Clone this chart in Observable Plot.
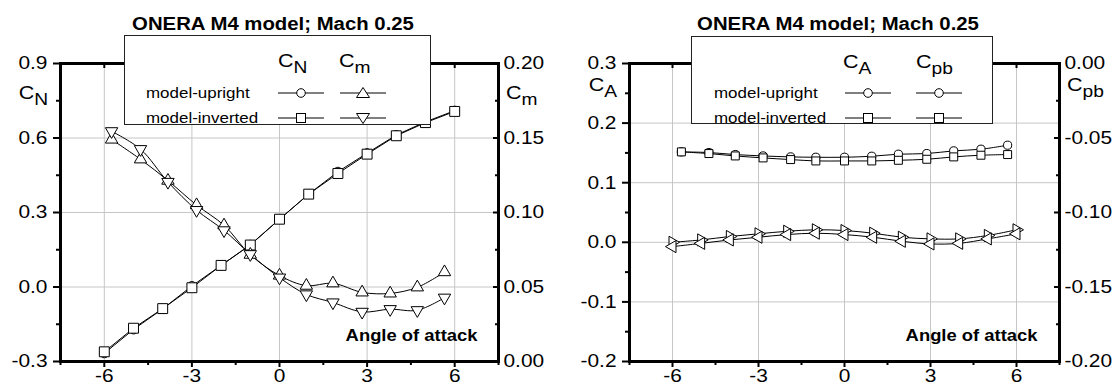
<!DOCTYPE html>
<html><head><meta charset="utf-8">
<script src="https://cdn.jsdelivr.net/npm/d3@7"></script>
<script src="https://cdn.jsdelivr.net/npm/@observablehq/plot@0.6"></script>
<style>
body{margin:0;background:#fff;font-family:"Liberation Sans",Arial,sans-serif;}
#wrap{position:relative;width:1118px;height:387px;overflow:hidden;background:#fff}
.chart{position:absolute;top:0}
.title{position:absolute;font-weight:bold;font-size:18px;line-height:18px;white-space:nowrap;transform:translateX(-50%) scaleX(1.13);transform-origin:50% 50%}
.legend{position:absolute;background:#fff;border:1px solid #222;box-sizing:border-box}
.legend .lab{position:absolute;font-size:15px;line-height:15px;white-space:nowrap;transform:scaleX(1.13);transform-origin:0 50%}
.legend .hdr{position:absolute;font-size:19px;line-height:19px;white-space:nowrap;transform:scaleX(1.13);transform-origin:0 50%}
.hdr sub{font-size:17px;vertical-align:-6px;line-height:0}
.legend svg{position:absolute}
</style></head><body><div id="wrap"></div>
<script>
// ---------------- data ----------------
const title = "ONERA M4 model; Mach 0.25";
const seriesNames = ["model-upright", "model-inverted"];
const xLabel = "Angle of attack";

// angle of attack for C_N and C_pb points
const alphaInt = [-6, -5, -4, -3, -2, -1, 0, 1, 2, 3, 4, 5, 6];
// angle of attack for C_m and C_A points
const alphaCm = [-5.75, -4.76, -3.82, -2.84, -1.9, -1.0, 0, 0.92, 1.83, 2.83, 3.79, 4.72, 5.65];
const alphaCA = [-5.69, -4.73, -3.81, -2.84, -1.88, -1.0, 0, 0.95, 1.88, 2.87, 3.81, 4.76, 5.69];

const cnUpright  = [-0.267, -0.171, -0.088, 0.004, 0.087, 0.170, 0.273, 0.374, 0.464, 0.539, 0.612, 0.665, 0.710];
const cnInverted = [-0.261, -0.166, -0.087, -0.003, 0.087, 0.169, 0.273, 0.374, 0.457, 0.535, 0.609, 0.662, 0.707];

const cmUpright  = [0.1490, 0.1357, 0.1214, 0.1050, 0.0914, 0.0717, 0.0577, 0.0509, 0.0525, 0.0464, 0.0457, 0.0498, 0.0600];
const cmInverted = [0.1545, 0.1425, 0.1205, 0.1016, 0.0880, 0.0720, 0.0563, 0.0450, 0.0396, 0.0333, 0.0351, 0.0344, 0.0428];

const caUpright  = [0.1517, 0.1506, 0.1472, 0.1449, 0.1433, 0.1427, 0.1427, 0.1444, 0.1478, 0.1489, 0.1534, 0.1562, 0.1629];
const caInverted = [0.1517, 0.1489, 0.1449, 0.1416, 0.1388, 0.1365, 0.1365, 0.1365, 0.1376, 0.1393, 0.1433, 0.1461, 0.1472];

const cpbUpright  = [-0.1200, -0.1184, -0.1161, -0.1143, -0.1126, -0.1116, -0.1121, -0.1139, -0.1166, -0.1177, -0.1177, -0.1154, -0.1116];
const cpbInverted = [-0.1229, -0.1207, -0.1184, -0.1166, -0.1148, -0.1139, -0.1148, -0.1166, -0.1193, -0.1211, -0.1207, -0.1177, -0.1143];

// ticks
const xMajor = [-6, -3, 0, 3, 6];
const xMinor = [-7.5, -4.5, -1.5, 1.5, 4.5, 7.5];
const cnMajor = [-0.3, 0, 0.3, 0.6, 0.9];
const cnMinor = [-0.15, 0.15, 0.45, 0.75];
const cmMajor = [0, 0.05, 0.10, 0.15, 0.20];
const cmMinor = [0.025, 0.075, 0.125, 0.175];
const caMajor = [-0.2, -0.1, 0, 0.1, 0.2, 0.3];
const caMinor = [-0.15, -0.05, 0.05, 0.15, 0.25];
const cpbMajor = [0, -0.05, -0.10, -0.15, -0.20];
const cpbMinor = [-0.025, -0.075, -0.125, -0.175];

// secondary-axis mappings onto the primary y scale
const cmToCN = v => v * 6 - 0.3;
const cnToCm = v => (v + 0.3) / 6;
const cpbToCA = v => v * 2.5 + 0.3;
const caToCpb = v => (v - 0.3) / 2.5;

// ---------------- helpers ----------------
const FONT = "Liberation Sans, Arial, sans-serif";
const SX = 1.13; // horizontal stretch of the original lettering
const rows = (xs, ys, f = v => v) => xs.map((x, i) => ({x, y: f(ys[i])}));
const fmt = n => d => { const s = d.toFixed(n); return /^-0\.0+$/.test(s) ? s.slice(1) : s; };
const GRID = "#c6c6c6";

function frameAxes(o) {
  return [
    Plot.frame({stroke: "black", strokeWidth: 3}),
    Plot.axisX(xMajor, {anchor: "bottom", tickSize: 6, strokeWidth: 2, tickPadding: 1, fontSize: 18.5, label: null, tickFormat: d => String(d)}),
    Plot.axisX(xMinor, {anchor: "bottom", tickSize: 4, strokeWidth: 2, tickFormat: () => "", label: null}),
    Plot.axisX(xMajor, {anchor: "top", tickSize: 4, insetTop: 4, strokeWidth: 2, tickFormat: () => "", label: null}),
    Plot.axisY(o.leftMajor, {anchor: "left", tickSize: 7, strokeWidth: 2, tickPadding: 6, fontSize: 18.5, label: null, tickFormat: o.leftFmt}),
    Plot.axisY(o.leftMinor, {anchor: "left", tickSize: 4, strokeWidth: 2, tickFormat: () => "", label: null}),
    Plot.axisY(o.rightMajor, {anchor: "right", tickSize: 6, insetRight: 6, strokeWidth: 2, tickFormat: () => "", label: null}),
    Plot.axisY(o.rightMinor, {anchor: "right", tickSize: 4, insetRight: 4, strokeWidth: 2, tickFormat: () => "", label: null}),
    Plot.axisY(o.rightMajor, {anchor: "right", tickSize: 0, tickPadding: 5, fontSize: 18.5, label: null, tickFormat: o.rightFmt}),
    Plot.text([xLabel], {text: d => d, frameAnchor: "bottom-right", textAnchor: "end", dx: o.xLabelDx, dy: -21, fontSize: 16.3, fontWeight: "bold"})
  ];
}

// stretch all SVG lettering horizontally about its own anchor point
function stretchText(svg) {
  d3.select(svg).selectAll("text").each(function () {
    const x = this.getAttribute("x");
    let tr = this.getAttribute("transform") || "";
    if (x != null && x !== "0") { tr += ` translate(${x},0)`; this.removeAttribute("x"); }
    this.setAttribute("transform", `${tr} scale(${SX},1)`);
  });
}

function addAxisName(svg, x, y, main, sub, anchor) {
  const t = d3.select(svg).append("text")
    .attr("transform", `translate(${x},${y - 8}) scale(${SX},1)`)
    .attr("dy", "0.35em")
    .attr("text-anchor", anchor)
    .attr("font-family", FONT).attr("font-size", 19).attr("fill", "black");
  t.append("tspan").text(main);
  t.append("tspan").attr("font-size", 17).attr("dy", 6).text(sub);
}

function symbolSvg(shape) {
  const w = 48, h = 16, cx = w / 2, cy = h / 2;
  let m = "";
  if (shape === "circle") m = `<circle cx="${cx}" cy="${cy}" r="4.3"/>`;
  else if (shape === "square") m = `<rect x="${cx - 4.5}" y="${cy - 4.5}" width="9" height="9"/>`;
  else if (shape === "up") m = `<path d="M${cx},${cy - 5.5}L${cx + 6.5},${cy + 4.5}L${cx - 6.5},${cy + 4.5}Z"/>`;
  else if (shape === "down") m = `<path d="M${cx},${cy + 5.5}L${cx + 6.5},${cy - 4.5}L${cx - 6.5},${cy - 4.5}Z"/>`;
  return `<svg width="${w}" height="${h}" viewBox="0 0 ${w} ${h}"><line x1="1" x2="${w - 1}" y1="${cy}" y2="${cy}" stroke="black" stroke-width="1"/><g fill="white" stroke="black" stroke-width="1">${m}</g></svg>`;
}

function legend(parent, L) {
  const box = document.createElement("div");
  box.className = "legend";
  Object.assign(box.style, {left: L.left + "px", top: L.top + "px", width: L.width + "px", height: L.height + "px"});
  L.headers.forEach(h => {
    const d = document.createElement("div");
    d.className = "hdr";
    d.style.left = h.x + "px"; d.style.top = L.hdrTop + "px";
    d.innerHTML = `${h.main}<sub>${h.sub}</sub>`;
    box.appendChild(d);
  });
  L.rows.forEach((r, i) => {
    const d = document.createElement("div");
    d.className = "lab";
    d.style.left = L.labLeft + "px"; d.style.top = (L.rowMid[i] - 8) + "px";
    d.textContent = seriesNames[i];
    box.appendChild(d);
    r.forEach((shape, j) => {
      const s = document.createElement("div");
      s.innerHTML = symbolSvg(shape);
      const el = s.firstChild;
      el.style.left = (L.symX[j] - 24) + "px"; el.style.top = (L.rowMid[i] - 8) + "px";
      box.appendChild(el);
    });
  });
  parent.appendChild(box);
}

function addTitle(parent, cx) {
  const t = document.createElement("div");
  t.className = "title";
  t.style.left = cx + "px"; t.style.top = "15px";
  t.textContent = title;
  parent.appendChild(t);
}

const wrap = document.getElementById("wrap");

// ---------------- left chart: C_N and C_m ----------------
{
  const cnU = rows(alphaInt, cnUpright), cnI = rows(alphaInt, cnInverted);
  const cmU = rows(alphaCm, cmUpright, cmToCN), cmI = rows(alphaCm, cmInverted, cmToCN);
  const dotOpts = {x: "x", y: "y", fill: "white", stroke: "black", strokeWidth: 1};
  const mL = 60, mR = 61;
  const chart = Plot.plot({
    width: 559, height: 387,
    marginTop: 63, marginBottom: 26, marginLeft: mL, marginRight: mR,
    x: {domain: [-7.5, 7.5], axis: null},
    y: {domain: [-0.3, 0.9], axis: null},
    style: {fontFamily: FONT, color: "black", background: "transparent", overflow: "visible"},
    marks: [
      Plot.gridX(xMajor, {stroke: GRID, strokeOpacity: 1}),
      Plot.gridY(cnMajor, {stroke: GRID, strokeOpacity: 1}),
      Plot.line(cnU, {x: "x", y: "y", stroke: "black", strokeWidth: 1}),
      Plot.line(cnI, {x: "x", y: "y", stroke: "black", strokeWidth: 1}),
      Plot.line(cmU, {x: "x", y: "y", stroke: "black", strokeWidth: 1, curve: "catmull-rom"}),
      Plot.line(cmI, {x: "x", y: "y", stroke: "black", strokeWidth: 1, curve: "catmull-rom"}),
      Plot.dot(cnU, {...dotOpts, symbol: "circle", r: 4.5}),
      Plot.dot(cnI, {...dotOpts, symbol: "square", r: 5.6}),
      Plot.dot(cmU, {...dotOpts, symbol: "triangle", r: 4.6}),
      Plot.dot(cmI, {...dotOpts, symbol: "triangle", r: 4.6, rotate: 180}),
      ...frameAxes({
        leftMajor: cnMajor, leftMinor: cnMinor, leftFmt: fmt(1),
        rightMajor: cmMajor.map(cmToCN), rightMinor: cmMinor.map(cmToCN), rightFmt: d => fmt(2)(cnToCm(d)),
        xLabelDx: -21
      })
    ]
  });
  stretchText(chart);
  const div = document.createElement("div");
  div.className = "chart"; div.style.left = "0px";
  div.appendChild(chart);
  wrap.appendChild(div);
  const y = chart.scale("y");
  addAxisName(chart, mL - 12, y.apply(0.75), "C", "N", "end");
  addAxisName(chart, 559 - mR + 8, y.apply(0.75), "C", "m", "start");
  addTitle(wrap, 273);
  legend(wrap, {
    left: 124, top: 35, width: 307, height: 90,
    hdrTop: 15, headers: [{main: "C", sub: "N", x: 153}, {main: "C", sub: "m", x: 214}],
    labLeft: 21, rowMid: [57, 82], symX: [176, 238],
    rows: [["circle", "up"], ["square", "down"]]
  });
}

// ---------------- right chart: C_A and C_pb ----------------
{
  const caU = rows(alphaCA, caUpright), caI = rows(alphaCA, caInverted);
  const pbU = rows(alphaInt, cpbUpright, cpbToCA), pbI = rows(alphaInt, cpbInverted, cpbToCA);
  const dotOpts = {x: "x", y: "y", fill: "white", stroke: "black", strokeWidth: 1};
  const mL = 70, mR = 59;
  const chart = Plot.plot({
    width: 559, height: 387,
    marginTop: 63, marginBottom: 26, marginLeft: mL, marginRight: mR,
    x: {domain: [-7.5, 7.5], axis: null},
    y: {domain: [-0.2, 0.3], axis: null},
    style: {fontFamily: FONT, color: "black", background: "transparent", overflow: "visible"},
    marks: [
      Plot.gridX(xMajor, {stroke: GRID, strokeOpacity: 1}),
      Plot.gridY(caMajor, {stroke: GRID, strokeOpacity: 1}),
      Plot.line(caU, {x: "x", y: "y", stroke: "black", strokeWidth: 1, curve: "catmull-rom"}),
      Plot.line(caI, {x: "x", y: "y", stroke: "black", strokeWidth: 1, curve: "catmull-rom"}),
      Plot.line(pbU, {x: "x", y: "y", stroke: "black", strokeWidth: 1, curve: "catmull-rom"}),
      Plot.line(pbI, {x: "x", y: "y", stroke: "black", strokeWidth: 1, curve: "catmull-rom"}),
      Plot.dot(caU, {...dotOpts, symbol: "circle", r: 4.1}),
      Plot.dot(caI, {...dotOpts, symbol: "square", r: 4.5}),
      Plot.dot(pbU, {...dotOpts, symbol: "triangle", r: 4.5, rotate: 90}),
      Plot.dot(pbI, {...dotOpts, symbol: "triangle", r: 4.5, rotate: -90}),
      ...frameAxes({
        leftMajor: caMajor, leftMinor: caMinor, leftFmt: fmt(1),
        rightMajor: cpbMajor.map(cpbToCA), rightMinor: cpbMinor.map(cpbToCA), rightFmt: d => fmt(2)(caToCpb(d)),
        xLabelDx: -22
      })
    ]
  });
  stretchText(chart);
  const div = document.createElement("div");
  div.className = "chart"; div.style.left = "559px";
  div.appendChild(chart);
  wrap.appendChild(div);
  const y = chart.scale("y");
  addAxisName(chart, mL - 12, y.apply(0.25), "C", "A", "end");
  addAxisName(chart, 559 - mR + 8, y.apply(0.25), "C", "pb", "start");
  addTitle(wrap, 838);
  legend(wrap, {
    left: 691, top: 36, width: 302, height: 88,
    hdrTop: 15, headers: [{main: "C", sub: "A", x: 151}, {main: "C", sub: "pb", x: 224}],
    labLeft: 22, rowMid: [56, 81], symX: [176, 247],
    rows: [["circle", "circle"], ["square", "square"]]
  });
}
</script></body></html>
